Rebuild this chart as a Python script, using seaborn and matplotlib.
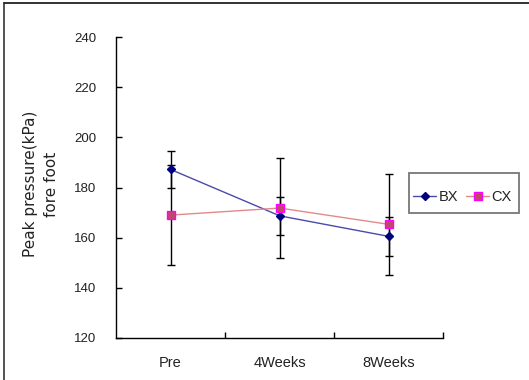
import matplotlib
matplotlib.use("Agg")
import matplotlib.pyplot as plt
import seaborn as sns
import pandas as pd
from matplotlib.lines import Line2D
from matplotlib.patches import Rectangle
from matplotlib.ticker import FixedLocator

categories = ["Pre", "4Weeks", "8Weeks"]
bx_mean = [187.2, 168.7, 160.5]
bx_sd = [7.5, 7.7, 7.7]
cx_mean = [169.0, 171.8, 165.3]
cx_sd = [20.0, 19.8, 20.0]
y_ticks = [120, 140, 160, 180, 200, 220, 240]

sns.set_style("white")
plt.rcParams["font.family"] = ["Liberation Sans", "DejaVu Sans"]

df = pd.DataFrame({
    "time": categories * 2,
    "value": bx_mean + cx_mean,
    "group": ["BX"] * 3 + ["CX"] * 3,
})

fig = plt.figure(figsize=(5.29, 3.80), dpi=100)
ax = fig.add_axes([116 / 529, 1 - 338 / 380, (443.5 - 116) / 529, (338 - 37) / 380])

ax.errorbar(categories, bx_mean, yerr=bx_sd, fmt="none", ecolor="black",
            elinewidth=1, capsize=3, capthick=1, zorder=1)
ax.errorbar(categories, cx_mean, yerr=cx_sd, fmt="none", ecolor="black",
            elinewidth=1, capsize=3, capthick=1, zorder=1)

line_colors = {"BX": "#4a4aa8", "CX": "#e08a8a"}
sns.lineplot(data=df, x="time", y="value", hue="group", palette=line_colors,
             linewidth=1, ax=ax, legend=False, sort=False, zorder=2)
ax.plot(categories, bx_mean, linestyle="none", marker="D", markersize=4,
        markerfacecolor="#000080", markeredgecolor="#000080", zorder=3)
ax.plot(categories, cx_mean, linestyle="none", marker="s", markersize=6,
        markerfacecolor="#c04868", markeredgecolor="#ff00ff", markeredgewidth=1, zorder=3)

ax.set_xlim(-0.5, 2.5)
ax.set_ylim(120, 240)
ax.set_yticks(y_ticks)
ax.set_xticks(range(len(categories)))
ax.set_xticklabels(categories)
ax.xaxis.set_minor_locator(FixedLocator([0.5, 1.5, 2.5]))
ax.tick_params(axis="x", which="major", length=0, pad=13, labelsize=10.5, colors="#222222")
ax.tick_params(axis="x", which="minor", direction="in", length=4, width=1, color="black", bottom=True)
ax.tick_params(axis="y", which="major", direction="in", length=4, width=1, color="black",
               left=True, pad=14, labelsize=9.5, labelcolor="#222222")
for s in ["top", "right"]:
    ax.spines[s].set_visible(False)
for s in ["left", "bottom"]:
    ax.spines[s].set_color("black")
    ax.spines[s].set_linewidth(1)

ax.set_xlabel("")
ax.set_ylabel("")
fig.text(40.5 / 529, 1 - 184 / 380, "Peak pressure(kPa)\nfore foot", rotation=90,
         ha="center", va="center", fontsize=11, color="#222222", linespacing=1.5,
         family=["DejaVu Sans"])

# legend box (drawn as a figure rectangle) and legend entries
fig.add_artist(Rectangle((409 / 529, 1 - 213 / 380), 110 / 529, 40 / 380,
                         transform=fig.transFigure, fill=False,
                         edgecolor="#777777", linewidth=1.3))
handles = [
    Line2D([0], [0], color=line_colors["BX"], lw=1, marker="D", markersize=4,
           markerfacecolor="#000080", markeredgecolor="#000080"),
    Line2D([0], [0], color=line_colors["CX"], lw=1, marker="s", markersize=6,
           markerfacecolor="#c04868", markeredgecolor="#ff00ff"),
]
leg = fig.legend(handles, ["BX", "CX"], ncol=2, loc="center left",
                 bbox_to_anchor=(413 / 529, 1 - 197 / 380), frameon=False,
                 fontsize=10.5, handlelength=1.6, handletextpad=0.15,
                 columnspacing=0.55, borderpad=0.0, borderaxespad=0.0)
for t in leg.get_texts():
    t.set_color("#222222")

fig.add_artist(Line2D([3.5 / 529, 3.5 / 529], [0, 1 - 2.5 / 380], color="#444444", lw=1.3,
                      transform=fig.transFigure))
fig.add_artist(Line2D([3.5 / 529, 1], [1 - 2.5 / 380, 1 - 2.5 / 380], color="#222222", lw=1.3,
                      transform=fig.transFigure))

fig.savefig("out.png", dpi=100)
